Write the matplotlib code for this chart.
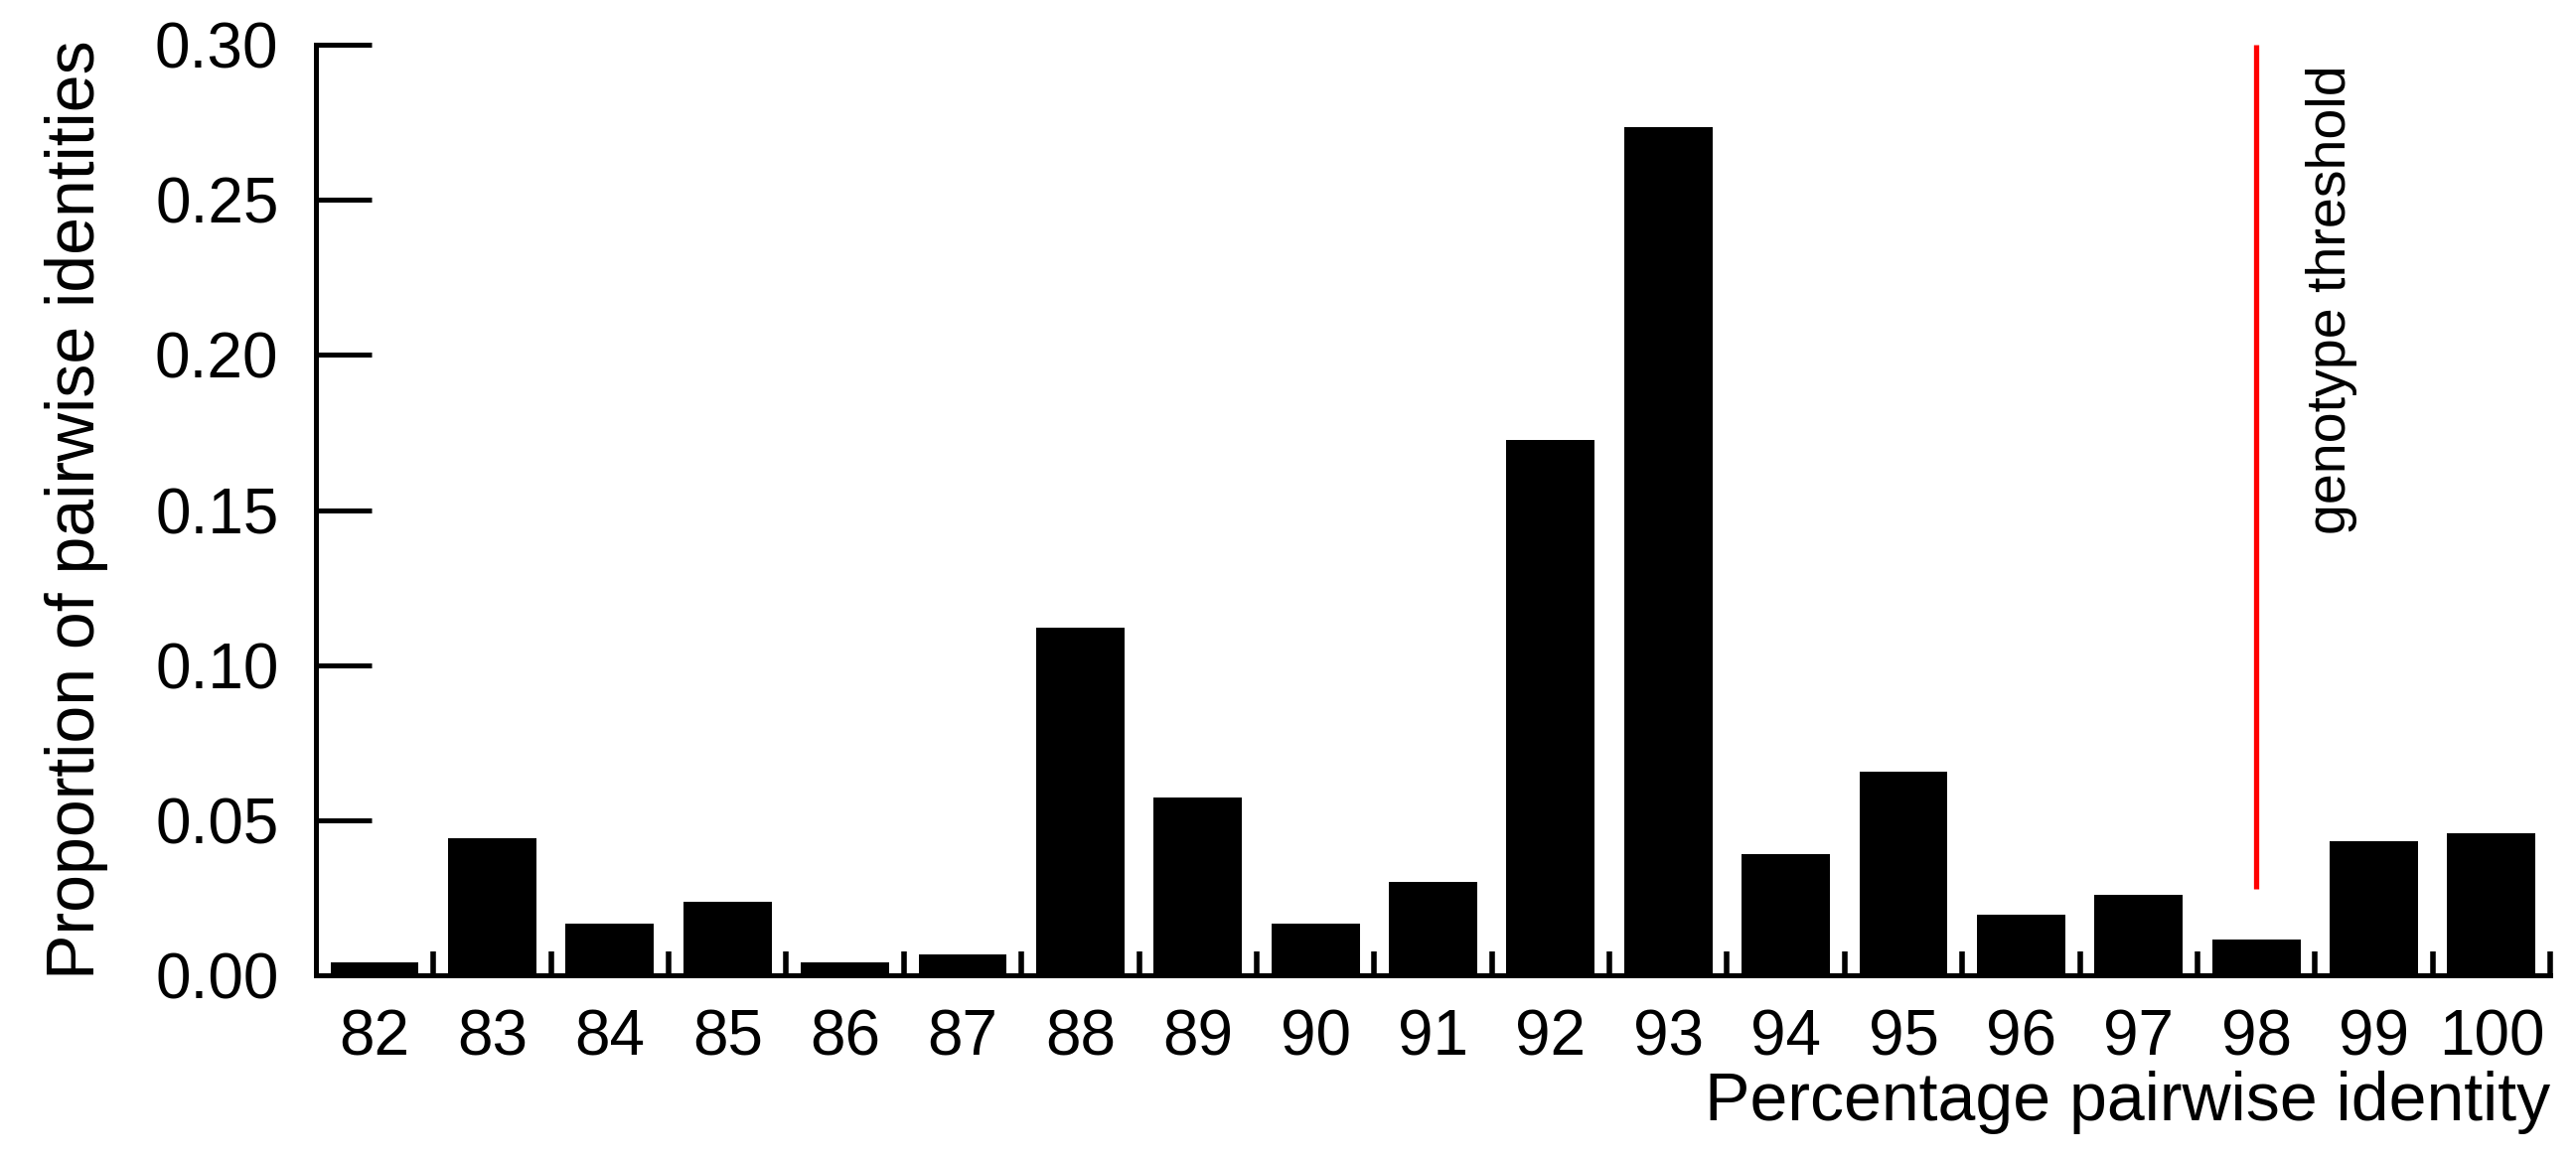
import numpy as np
import matplotlib
matplotlib.use('Agg')
import matplotlib.pyplot as plt
from matplotlib.ticker import FixedLocator, FormatStrFormatter

plt.rcParams['font.family'] = ['Liberation Sans', 'DejaVu Sans']

identity = [82, 83, 84, 85, 86, 87, 88, 89, 90, 91, 92, 93, 94, 95, 96, 97, 98, 99, 100]
proportion = [0.0042, 0.0441, 0.0166, 0.0236, 0.0042, 0.0069, 0.1121, 0.0574, 0.0166, 0.0301,
              0.1727, 0.2733, 0.0390, 0.0657, 0.0196, 0.0259, 0.0114, 0.0431, 0.0458]
threshold = 98
threshold_bottom = 0.028
yticks = [0.00, 0.05, 0.10, 0.15, 0.20, 0.25, 0.30]

fig = plt.figure(figsize=(25.93, 11.68), dpi=100)
ax = fig.add_axes([0.1226, 0.1592, 0.8674, 0.8023])

ax.bar(identity, proportion, width=0.75, color='black', edgecolor='none')
ax.vlines(threshold, threshold_bottom, 0.30, color='#ff0000', linewidth=3.8)
ax.text(threshold + 0.645, 0.2936, 'genotype threshold', rotation=90,
        ha='center', va='top', fontsize=40)

ax.set_xlim(81.5, 100.5)
ax.set_ylim(0, 0.30)

ax.spines['top'].set_visible(False)
ax.spines['right'].set_visible(False)
ax.spines['left'].set_linewidth(3.6)
ax.spines['bottom'].set_linewidth(3.6)

ax.set_yticks(yticks)
ax.yaxis.set_major_formatter(FormatStrFormatter('%.2f'))
ax.tick_params(axis='y', direction='in', length=40, width=3.6, pad=27, labelsize=46)

ax.set_xticks(identity)
ax.xaxis.set_minor_locator(FixedLocator(np.arange(82.5, 101, 1.0)))
ax.tick_params(axis='x', which='major', length=0, pad=24, labelsize=46)
ax.tick_params(axis='x', which='minor', direction='in', length=17, width=4)

ax.set_ylabel('Proportion of pairwise identities', fontsize=49, labelpad=34)
ax.set_xlabel('Percentage pairwise identity', fontsize=49, loc='right', labelpad=2)

fig.savefig('out.png', dpi=100)
